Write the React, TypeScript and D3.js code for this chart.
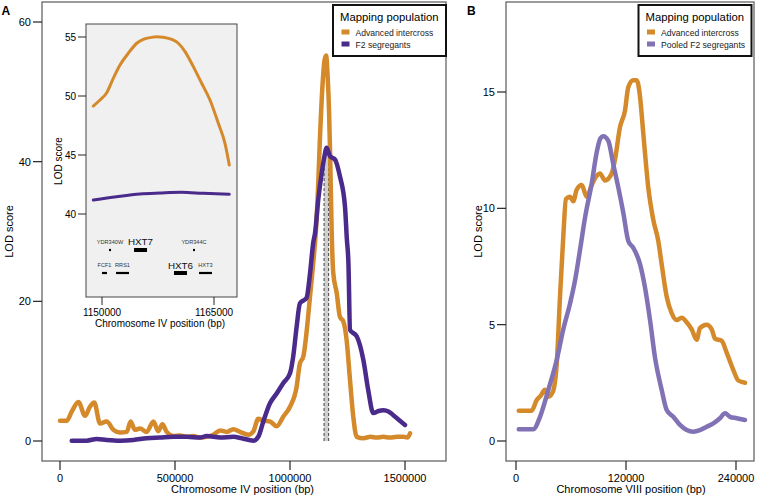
import React from "react";
import * as d3 from "d3";

// Panel A: chromosome IV, LOD by position (bp)
const advIVPos = [0, 29000, 51000, 80000, 109000, 130000, 149000, 174000, 203000, 232000, 261000, 290000, 307000, 326000, 348000, 377000, 406000, 427000, 445000, 464000, 493000, 522000, 551000, 580000, 609000, 638000, 667000, 696000, 725000, 754000, 783000, 819000, 841000, 862000, 884000, 913000, 942000, 971000, 1000000, 1029000, 1043000, 1058000, 1073000, 1087000, 1101000, 1113000, 1120000, 1130000, 1142000, 1150000, 1157000, 1164000, 1170000, 1175000, 1181000, 1188000, 1203000, 1217000, 1232000, 1246000, 1261000, 1275000, 1290000, 1319000, 1350000, 1377000, 1405000, 1435000, 1465000, 1493000, 1510000, 1522000];
const advIVLod = [2.9, 2.9, 4.2, 5.6, 3.6, 4.9, 5.5, 2.5, 2.8, 1.6, 1.2, 1.3, 2.8, 1.6, 1.8, 1.3, 2.8, 1.4, 2.4, 1.3, 0.7, 0.8, 0.6, 0.7, 0.5, 0.6, 0.9, 1.5, 1.3, 1.7, 1.3, 0.9, 1.4, 3.2, 2.9, 2.8, 2.1, 3.5, 4.9, 7.8, 11.1, 12.1, 15.9, 20.7, 25.5, 30.3, 34.6, 43.2, 51.3, 54.5, 55.2, 52.0, 47.0, 40.3, 30.3, 24.1, 21.2, 17.8, 17.1, 14.5, 8.7, 3.5, 0.6, 0.4, 0.6, 0.5, 0.6, 0.5, 0.6, 0.6, 0.5, 1.1];

const f2IVPos = [51000, 116000, 160000, 203000, 261000, 319000, 377000, 435000, 493000, 551000, 609000, 638000, 696000, 754000, 790000, 841000, 862000, 884000, 913000, 942000, 971000, 1000000, 1014000, 1029000, 1043000, 1072000, 1087000, 1101000, 1109000, 1123000, 1138000, 1150000, 1159000, 1174000, 1196000, 1217000, 1239000, 1247000, 1254000, 1261000, 1290000, 1319000, 1340000, 1362000, 1385000, 1406000, 1430000, 1449000, 1500000];
const f2IVLod = [0.05, 0.05, 0.3, 0.15, 0.05, 0.15, 0.4, 0.5, 0.6, 0.6, 0.5, 0.7, 0.5, 0.6, 0.4, 0.05, 0.6, 2.8, 5.4, 6.8, 8.3, 9.7, 12.1, 16.4, 19.7, 20.5, 24.0, 28.4, 29.8, 34.6, 38.4, 40.8, 42.0, 40.8, 40.3, 37.9, 33.6, 29.0, 25.5, 15.9, 15.0, 11.6, 7.3, 4.0, 4.3, 4.4, 4.2, 3.7, 2.3];

// Inset: zoom on the peak
const advInsetPos = [1148830, 1149730, 1150630, 1151510, 1152410, 1153520, 1154650, 1155530, 1156660, 1157330, 1158210, 1159330, 1160220, 1161120, 1162230, 1163350, 1164460, 1165580, 1166470, 1167050];
const advInsetLod = [49.15, 49.66, 50.28, 51.5, 52.63, 53.62, 54.47, 54.8, 54.97, 55.03, 54.97, 54.8, 54.47, 53.76, 52.49, 51.08, 49.66, 47.69, 45.99, 44.15];
const f2InsetPos = [1148830, 1151960, 1155090, 1157770, 1160670, 1163570, 1167050];
const f2InsetLod = [41.19, 41.47, 41.7, 41.78, 41.84, 41.75, 41.67];
const insetWindow = [1148000, 1168000];

const geneNames = ["YDR340W", "HXT7", "YDR344C", "FCF1", "RRS1", "HXT6", "HXT3"];
const geneStart = [1150940, 1154290, 1162190, 1150000, 1151880, 1159640, 1162990];
const geneEnd = [1151210, 1156030, 1162450, 1150670, 1153620, 1161380, 1164730];
const geneRow = [0, 0, 0, 1, 1, 1, 1];

// Panel B: chromosome VIII
const advVIIIPos = [3000, 17000, 22600, 27000, 31600, 35200, 40000, 44400, 48000, 51600, 54500, 58900, 62500, 66200, 71700, 77100, 82600, 88000, 91600, 97100, 104400, 108000, 113500, 118900, 122500, 128000, 131700, 135300, 138900, 144300, 149800, 155200, 158900, 164400, 169800, 175300, 180800, 186200, 191700, 197100, 200700, 208000, 213500, 217100, 224400, 229800, 237100, 242500, 249800];
const advVIIILod = [1.3, 1.3, 1.76, 1.95, 2.2, 1.9, 2.1, 3.3, 6.2, 8.8, 10.4, 10.5, 10.3, 10.8, 11.0, 10.5, 11.0, 11.4, 11.5, 11.2, 11.5, 12.1, 13.5, 14.2, 15.2, 15.5, 15.5, 14.8, 13.2, 10.9, 9.5, 8.6, 7.6, 6.2, 5.5, 5.2, 5.3, 5.1, 4.8, 4.35, 4.85, 5.0, 4.8, 4.4, 4.3, 3.8, 3.05, 2.6, 2.5];
const poolVIIIPos = [3000, 18800, 26200, 35200, 44400, 51600, 58900, 64400, 69800, 75300, 82600, 88000, 92000, 95200, 100700, 106100, 111600, 117100, 122500, 128000, 135300, 140700, 146200, 151600, 158900, 164400, 171600, 178900, 186200, 193400, 200700, 208000, 215300, 222500, 228000, 233500, 240700, 249800];
const poolVIIILod = [0.5, 0.5, 1.04, 2.19, 3.48, 4.8, 5.9, 6.9, 8.2, 9.6, 11.07, 12.4, 13.0, 13.1, 12.9, 11.9, 10.9, 9.8, 8.6, 8.3, 7.6, 6.6, 5.2, 3.6, 2.2, 1.33, 1.04, 0.69, 0.47, 0.4, 0.47, 0.61, 0.76, 0.98, 1.19, 1.04, 0.98, 0.9];

const ticksAX = [0, 500000, 1000000, 1500000];
const ticksAY = [0, 20, 40, 60];
const ticksInsetX = [1150000, 1165000];
const ticksInsetY = [40, 45, 50, 55];
const ticksBX = [0, 120000, 240000];
const ticksBY = [0, 5, 10, 15];

const ORANGE = "#d4892b";
const PURPLE = "#4a2a8a";
const LILAC = "#8072b4";
const FONT = "'Liberation Sans', Arial, Helvetica, sans-serif";

const zip = (xs: number[], ys: number[]) => xs.map((x, i) => [x, ys[i]] as [number, number]);

function Legend({ x, y, w, labels, colors }: { x: number; y: number; w: number; labels: string[]; colors: string[] }) {
  return (
    <g>
      <rect x={x} y={y} width={w} height={51} fill="#fff" stroke="#111" strokeWidth={2} />
      <text x={x + 7} y={y + 16} fontSize={11.3}>Mapping population</text>
      {labels.map((l, i) => (
        <g key={l}>
          <rect x={x + 8.5} y={y + 24.5 + i * 12} width={8} height={5} fill={colors[i]} />
          <text x={x + 22.5} y={y + 30.5 + i * 12} fontSize={8.6} fill="#222">{l}</text>
        </g>
      ))}
    </g>
  );
}

// R-style box frame with ticks hanging outside it
function Frame({ x0, x1, y0, y1, xs, ys, xTicks, yTicks, xTitle, yTitle, yTitleX, titleShift, tickLen, fontSize, frameColor }: any) {
  const midY = (y0 + y1) / 2;
  return (
    <g>
      <rect x={x0} y={y0} width={x1 - x0} height={y1 - y0} fill="none" stroke={frameColor} strokeWidth={1.3} />
      {xTicks.map((t: number) => (
        <g key={"x" + t}>
          <line x1={xs(t)} x2={xs(t)} y1={y1} y2={y1 + tickLen} stroke="#222" strokeWidth={1.2} />
          <text x={xs(t)} y={y1 + tickLen + fontSize + 1} textAnchor="middle" fontSize={fontSize}>{t}</text>
        </g>
      ))}
      {yTicks.map((t: number) => (
        <g key={"y" + t}>
          <line x1={x0 - tickLen} x2={x0} y1={ys(t)} y2={ys(t)} stroke="#222" strokeWidth={1.2} />
          <text x={x0 - tickLen - 2} y={ys(t)} dy="0.35em" textAnchor="end" fontSize={fontSize}>{t}</text>
        </g>
      ))}
      <text x={(xs.range()[0] + xs.range()[1]) / 2 + titleShift} y={493} textAnchor="middle" fontSize={fontSize}>{xTitle}</text>
      <text transform={`translate(${yTitleX},${midY}) rotate(-90)`} textAnchor="middle" dy="0.35em" fontSize={fontSize}>{yTitle}</text>
    </g>
  );
}

export default function App() {
  // panel A
  const xA = d3.scaleLinear().domain([0, 1500000]).range([60, 405]);
  const yA = d3.scaleLinear().domain([0, 60]).range([441, 22]);
  // inset
  const xI = d3.scaleLinear().domain([1150000, 1165000]).range([102, 214]);
  const yI = d3.scaleLinear().domain([40, 55]).range([214, 37]);
  // panel B
  const xB = d3.scaleLinear().domain([0, 240000]).range([516, 736]);
  const yB = d3.scaleLinear().domain([0, 15]).range([441, 92]);

  const lineA = d3.line<[number, number]>().x((d) => xA(d[0])).y((d) => yA(d[1])).curve(d3.curveMonotoneX);
  const lineI = d3.line<[number, number]>().x((d) => xI(d[0])).y((d) => yI(d[1])).curve(d3.curveMonotoneX);
  const lineB = d3.line<[number, number]>().x((d) => xB(d[0])).y((d) => yB(d[1])).curve(d3.curveMonotoneX);

  const rowBarY = [250, 273];
  const rowLabelY = [243.5, 267];
  const bigGenes = new Set(["HXT6", "HXT7"]);

  return (
    <svg width={757} height={497} style={{ position: "absolute", left: 0, top: 0, background: "#fff" }} fontFamily={FONT}>
      {/* ---------- panel A ---------- */}
      <text x={1.5} y={15} fontSize={12} fontWeight="bold">A</text>
      <rect x={xA(insetWindow[0])} y={yA(41)} width={xA(insetWindow[1]) - xA(insetWindow[0])} height={yA(0) - yA(41)} fill="#cfcfcf" />
      {insetWindow.map((w) => (
        <line key={w} x1={xA(w)} x2={xA(w)} y1={yA(0)} y2={yA(41)} stroke="#333" strokeWidth={0.9} strokeDasharray="3,2" />
      ))}
      <path d={lineA(zip(advIVPos, advIVLod)) || ""} fill="none" stroke={ORANGE} strokeWidth={4.5} strokeLinejoin="round" strokeLinecap="round" />
      <path d={lineA(zip(f2IVPos, f2IVLod)) || ""} fill="none" stroke={PURPLE} strokeWidth={4.5} strokeLinejoin="round" strokeLinecap="round" />
      <Frame x0={42} x1={446} y0={2} y1={461} xs={xA} ys={yA} xTicks={ticksAX} yTicks={ticksAY}
        xTitle="Chromosome IV position (bp)" yTitle="LOD score" yTitleX={9} titleShift={10}
        tickLen={9} fontSize={11} frameColor="#666" />

      {/* inset */}
      <rect x={86} y={24} width={151} height={273} fill="#f0f0f0" stroke="#444" strokeWidth={1} />
      <path d={lineI(zip(advInsetPos, advInsetLod)) || ""} fill="none" stroke={ORANGE} strokeWidth={3} strokeLinecap="round" />
      <path d={lineI(zip(f2InsetPos, f2InsetLod)) || ""} fill="none" stroke={PURPLE} strokeWidth={3} strokeLinecap="round" />
      {geneNames.map((g, i) => {
        const big = bigGenes.has(g);
        const cx = (xI(geneStart[i]) + xI(geneEnd[i])) / 2;
        const h = big ? 4 : 2.2;
        return (
          <g key={g}>
            <rect x={xI(geneStart[i])} y={rowBarY[geneRow[i]] - h / 2} width={xI(geneEnd[i]) - xI(geneStart[i])} height={h} fill="#000" />
            <text x={cx} y={rowLabelY[geneRow[i]] + (big ? 1.5 : 0)} textAnchor="middle" fontSize={big ? 9.8 : 5.6} fill={big ? "#111" : "#333"}>{g}</text>
          </g>
        );
      })}
      <g>
        {ticksInsetX.map((t) => (
          <g key={t}>
            <line x1={xI(t)} x2={xI(t)} y1={297} y2={305} stroke="#222" strokeWidth={1} />
            <text x={xI(t)} y={315.5} textAnchor="middle" fontSize={10}>{t}</text>
          </g>
        ))}
        {ticksInsetY.map((t) => (
          <g key={t}>
            <line x1={78} x2={86} y1={yI(t)} y2={yI(t)} stroke="#222" strokeWidth={1} />
            <text x={76} y={yI(t)} dy="0.35em" textAnchor="end" fontSize={10}>{t}</text>
          </g>
        ))}
        <text x={160} y={327} textAnchor="middle" fontSize={10}>Chromosome IV position (bp)</text>
        <text transform="translate(58,161) rotate(-90)" textAnchor="middle" dy="0.35em" fontSize={10}>LOD score</text>
      </g>

      <Legend x={333} y={5} w={113} labels={["Advanced intercross", "F2 segregants"]} colors={[ORANGE, PURPLE]} />

      {/* ---------- panel B ---------- */}
      <text x={467} y={15} fontSize={12} fontWeight="bold">B</text>
      <path d={lineB(zip(advVIIIPos, advVIIILod)) || ""} fill="none" stroke={ORANGE} strokeWidth={4.5} strokeLinejoin="round" strokeLinecap="round" />
      <path d={lineB(zip(poolVIIIPos, poolVIIILod)) || ""} fill="none" stroke={LILAC} strokeWidth={4.5} strokeLinejoin="round" strokeLinecap="round" />
      <Frame x0={506} x1={754} y0={2} y1={461} xs={xB} ys={yB} xTicks={ticksBX} yTicks={ticksBY}
        xTitle="Chromosome VIII position (bp)" yTitle="LOD score" yTitleX={478} titleShift={5}
        tickLen={9} fontSize={11} frameColor="#666" />
      <Legend x={638.5} y={5} w={113} labels={["Advanced intercross", "Pooled F2 segregants"]} colors={[ORANGE, LILAC]} />
    </svg>
  );
}
